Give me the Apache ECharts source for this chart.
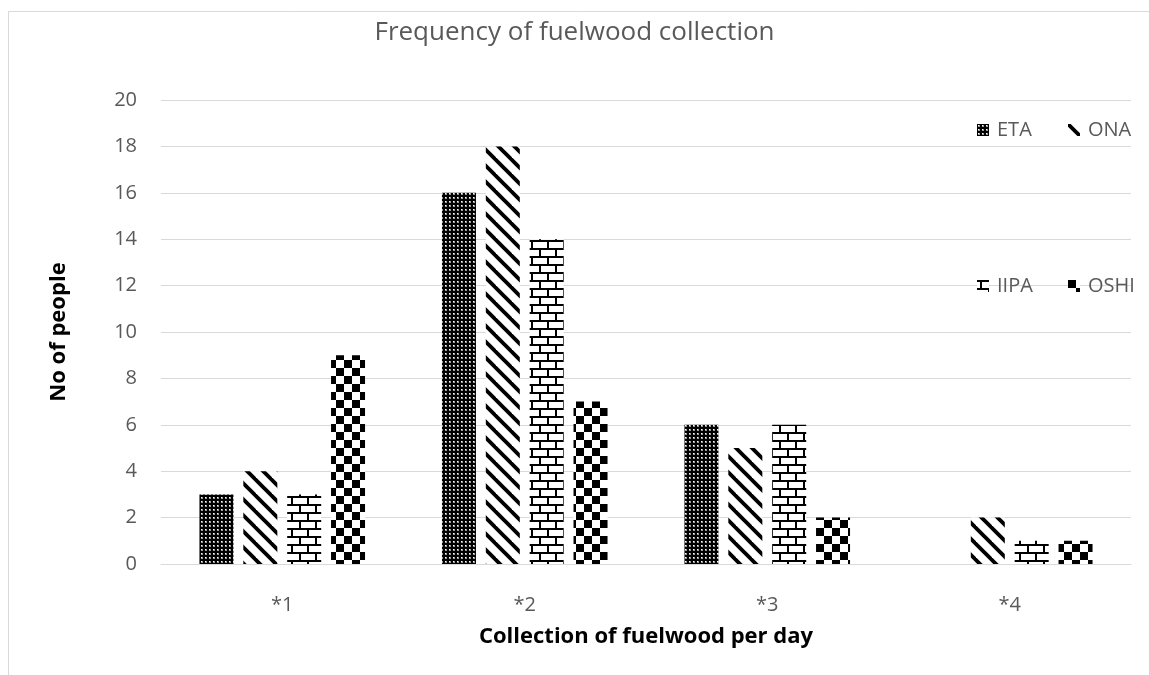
<!DOCTYPE html>
<html>
<head>
<meta charset="utf-8">
<script src="https://cdn.jsdelivr.net/npm/echarts@6/dist/echarts.min.js"></script>
<style>
  html, body { margin: 0; padding: 0; background: #fff; }
  #chart { width: 1149px; height: 675px; }
</style>
</head>
<body>
<div id="chart"></div>
<script>
// Data
const categories = ['*1', '*2', '*3', '*4'];
const seriesNames = ['ETA', 'ONA', 'IIPA', 'OSHI'];
const etaValues  = [3, 16, 6, 0];
const onaValues  = [4, 18, 5, 2];
const iipaValues = [3, 14, 6, 1];
const oshiValues = [9, 7, 2, 1];
const yTicks = { min: 0, max: 20, interval: 2 };

// Monochrome fill patterns drawn on small tiles
function tile(w, h, draw) {
  const c = document.createElement('canvas');
  c.width = w; c.height = h;
  const ctx = c.getContext('2d');
  ctx.fillStyle = '#fff';
  ctx.fillRect(0, 0, w, h);
  draw(ctx, w, h);
  return { image: c, repeat: 'repeat' };
}

// black ground with small white dots
const dotted = tile(4, 4, (ctx) => {
  ctx.fillStyle = '#000';
  ctx.fillRect(0, 0, 4, 4);
  ctx.fillStyle = '#9a9a9a';
  ctx.fillRect(1, 1, 2, 2);
  ctx.fillStyle = '#fff';
  ctx.fillRect(1, 1, 1, 1);
});

// wide downward diagonal stripes
const diagonal = tile(16, 16, (ctx, w) => {
  ctx.strokeStyle = '#000';
  ctx.lineWidth = 3.8;
  for (let k = -w; k <= w; k += w) {
    ctx.beginPath();
    ctx.moveTo(k - 2, -2);
    ctx.lineTo(k + w + 2, w + 2);
    ctx.stroke();
  }
});

// brick pattern
const brick = tile(16, 16, (ctx) => {
  ctx.fillStyle = '#000';
  ctx.fillRect(0, 0, 16, 2);
  ctx.fillRect(0, 8, 16, 2);
  ctx.fillRect(3, 0, 2, 8);
  ctx.fillRect(11, 8, 2, 8);
});

// checkerboard
const checker = tile(16, 16, (ctx) => {
  ctx.fillStyle = '#000';
  ctx.fillRect(0, 0, 8, 8);
  ctx.fillRect(8, 8, 8, 8);
});

const fills = [dotted, diagonal, brick, checker];
const values = [etaValues, onaValues, iipaValues, oshiValues];

const textGrey = '#595959';
const gridGrey = '#d9d9d9';
const font = '"Open Sans", "Noto Sans", sans-serif';

// one legend box per entry, placed in two rows
const legendSpots = [
  { left: 977, top: 120 },
  { left: 1068, top: 120 },
  { left: 977, top: 276 },
  { left: 1068, top: 276 }
];

const chart = echarts.init(document.getElementById('chart'), null, { renderer: 'canvas' });

chart.setOption({
  animation: false,
  backgroundColor: '#fff',
  title: {
    text: 'Frequency of fuelwood collection',
    left: 'center',
    top: 20,
    padding: [0, 0, 0, 13],
    textStyle: { fontFamily: font, fontSize: 26, fontWeight: 'normal', color: textGrey }
  },
  graphic: [
    { type: 'line', shape: { x1: 8.5, y1: 11, x2: 8.5, y2: 675 }, style: { stroke: gridGrey, lineWidth: 1 } },
    { type: 'line', shape: { x1: 8, y1: 11.5, x2: 1149, y2: 11.5 }, style: { stroke: gridGrey, lineWidth: 1 } }
  ],
  legend: seriesNames.map((name, i) => ({
    data: [name],
    left: legendSpots[i].left,
    top: legendSpots[i].top,
    padding: 0,
    itemWidth: 12,
    itemHeight: 12,
    icon: 'rect',
    selectedMode: false,
    textStyle: { fontFamily: font, fontSize: 20, lineHeight: 20, color: textGrey, padding: [0, 0, 0, 3] }
  })),
  grid: { left: 161, right: 18, top: 100, bottom: 111 },
  xAxis: {
    type: 'category',
    data: categories,
    name: 'Collection of fuelwood per day',
    nameLocation: 'middle',
    nameGap: 62,
    nameTextStyle: { fontFamily: font, fontSize: 22, fontWeight: 'bold', color: '#000' },
    axisLine: { lineStyle: { color: gridGrey, width: 1 } },
    axisTick: { show: false },
    axisLabel: { fontFamily: font, fontSize: 20, color: textGrey, margin: 31 }
  },
  yAxis: {
    type: 'value',
    min: yTicks.min,
    max: yTicks.max,
    interval: yTicks.interval,
    name: 'No of people',
    nameLocation: 'middle',
    nameGap: 91,
    nameTextStyle: { fontFamily: font, fontSize: 22, fontWeight: 'bold', color: '#000' },
    axisLine: { show: false },
    axisTick: { show: false },
    axisLabel: { fontFamily: font, fontSize: 20, color: textGrey, margin: 24 },
    splitLine: { lineStyle: { color: gridGrey, width: 1 } }
  },
  series: seriesNames.map((name, i) => ({
    name: name,
    type: 'bar',
    data: values[i],
    barWidth: 34,
    barGap: '29%',
    itemStyle: { color: fills[i] }
  }))
});
</script>
</body>
</html>
